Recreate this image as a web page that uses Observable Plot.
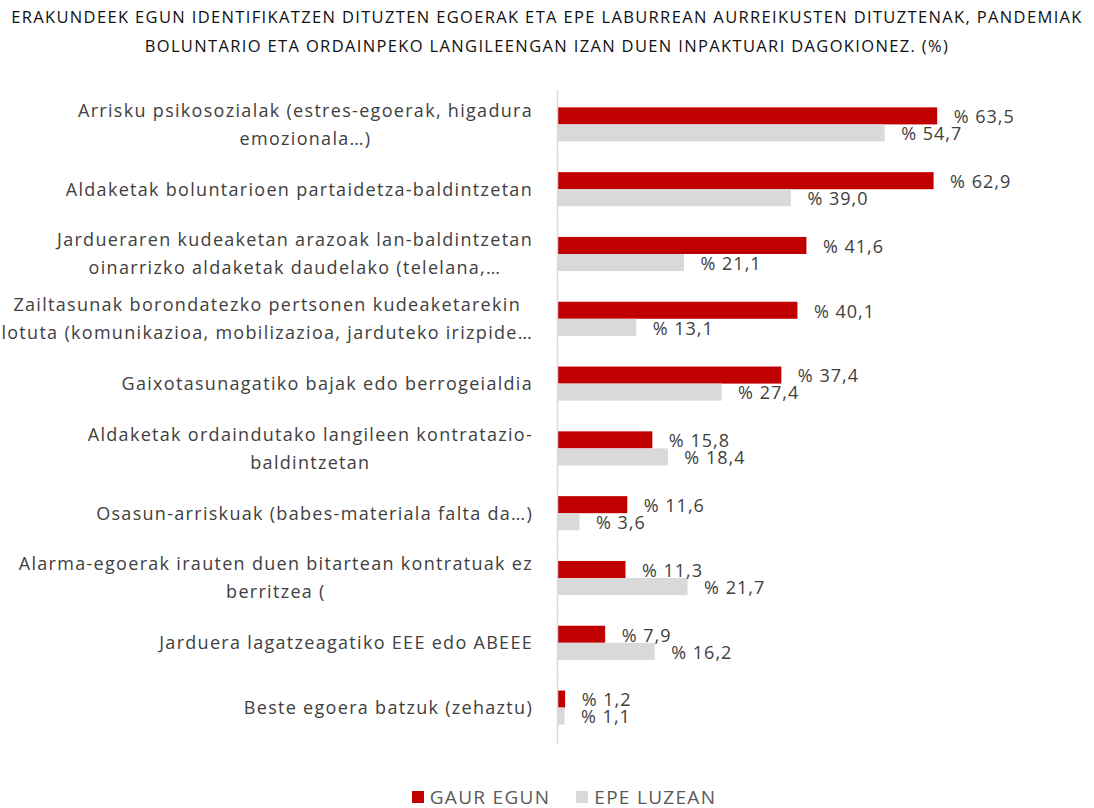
<!DOCTYPE html>
<html>
<head>
<meta charset="utf-8">
<script src="https://cdn.jsdelivr.net/npm/d3@7"></script>
<script src="https://cdn.jsdelivr.net/npm/@observablehq/plot@0.6"></script>
<style>
  html, body { margin: 0; padding: 0; background: #fff; }
  body { width: 1094px; height: 808px; font-family: "Open Sans", Lato, sans-serif; overflow: hidden; }
  #title { text-align: center; font-size: 16.5px; line-height: 29px; color: #111; padding-top: 2px; height: 68px; white-space: nowrap; letter-spacing: 1.35px; }
  #chart svg { display: block; }
  #chart svg text.cat { letter-spacing: 1.3px; }
  #chart svg text.val { letter-spacing: 1px; }
  #legend { display: flex; justify-content: center; align-items: center; margin-top: 17px; height: 20px; line-height: 20px; padding-left: 34px; font-size: 19px; color: #595959; letter-spacing: 1.3px; }
  .sw { width: 12px; height: 12px; display: inline-block; margin-right: 6px; }
  .item { display: flex; align-items: center; margin: 0 13px; }
</style>
</head>
<body>
<div id="title">ERAKUNDEEK EGUN IDENTIFIKATZEN DITUZTEN EGOERAK ETA EPE LABURREAN AURREIKUSTEN DITUZTENAK, PANDEMIAK<br>BOLUNTARIO ETA ORDAINPEKO LANGILEENGAN IZAN DUEN INPAKTUARI DAGOKIONEZ. (%)</div>
<div id="chart"></div>
<div id="legend"></div>
<script>
const categories = [
  "Arrisku psikosozialak (estres-egoerak, higadura\nemozionala…)",
  "Aldaketak boluntarioen partaidetza-baldintzetan",
  "Jardueraren kudeaketan arazoak lan-baldintzetan\noinarrizko aldaketak daudelako (telelana,…",
  "Zailtasunak borondatezko pertsonen kudeaketarekin\nlotuta (komunikazioa, mobilizazioa, jarduteko irizpide…",
  "Gaixotasunagatiko bajak edo berrogeialdia",
  "Aldaketak ordaindutako langileen kontratazio-\nbaldintzetan",
  "Osasun-arriskuak (babes-materiala falta da…)",
  "Alarma-egoerak irauten duen bitartean kontratuak ez\nberritzea (",
  "Jarduera lagatzeagatiko EEE edo ABEEE",
  "Beste egoera batzuk (zehaztu)"
];
const seriesNames = ["GAUR EGUN", "EPE LUZEAN"];
const gaurEgun  = [63.5, 62.9, 41.6, 40.1, 37.4, 15.8, 11.6, 11.3, 7.9, 1.2];
const epeLuzean = [54.7, 39.0, 21.1, 13.1, 27.4, 18.4, 3.6, 21.7, 16.2, 1.1];
const seriesColors = ["#C00000", "#D9D9D9"];

const data = [];
categories.forEach((c, i) => {
  data.push({category: c, series: seriesNames[0], value: gaurEgun[i]});
  data.push({category: c, series: seriesNames[1], value: epeLuzean[i]});
});
const fmt = v => "% " + v.toFixed(1).replace(".", ",");

const chart = Plot.plot({
  width: 1094,
  height: 700,
  marginLeft: 558,
  marginRight: 118,
  marginTop: 22,
  marginBottom: 30,
  style: {fontFamily: "'Open Sans', Lato, sans-serif", background: "#fff"},
  x: {domain: [0, 70], axis: null},
  y: {domain: seriesNames, axis: null, paddingInner: 0, paddingOuter: 0.9, round: false},
  fy: {domain: categories, axis: null, padding: 0, round: false},
  color: {domain: seriesNames, range: seriesColors},
  marks: [
    Plot.barX(data, {x: "value", y: "series", fy: "category", fill: "series"}),
    Plot.ruleX([0], {dx: -1, stroke: "#d9d9d9", strokeWidth: 1.5, insetTop: -2, insetBottom: -4}),
    Plot.text(data, {x: "value", y: "series", fy: "category", text: d => fmt(d.value), textAnchor: "start", dx: 16, dy: 1, fill: "#404040", fontSize: 18}),
    Plot.text(categories, {fy: d => d, x: 0, dy: -3, text: d => d, textAnchor: "middle", fill: "#404040", fontSize: 18, lineHeight: 1.55})
  ]
});
document.getElementById("chart").appendChild(chart);

// Tag label texts for styling
const labelSet = new Set(categories.map(c => c.replace(/\n/g, "")));
chart.querySelectorAll("text").forEach(el => {
  if (labelSet.has(el.textContent)) el.classList.add("cat");
  else if (/^% /.test(el.textContent)) el.classList.add("val");
});
// Right-align each category label block (lines centred within the block), ending 25px left of the axis
const svgLeft = chart.getBoundingClientRect().left;
const rightEdge = svgLeft + 558 - 25;
chart.querySelectorAll("text.cat").forEach(el => {
  const r = el.getBoundingClientRect();
  const shift = rightEdge - r.right;
  const t = el.getAttribute("transform") || "";
  el.setAttribute("transform", t + ` translate(${shift},0)`);
});

const legend = document.getElementById("legend");
seriesNames.forEach((s, i) => {
  const item = document.createElement("div");
  item.className = "item";
  const sw = document.createElement("span");
  sw.className = "sw";
  sw.style.background = seriesColors[i];
  const lbl = document.createElement("span");
  lbl.textContent = s;
  item.appendChild(sw);
  item.appendChild(lbl);
  legend.appendChild(item);
});
</script>
</body>
</html>
